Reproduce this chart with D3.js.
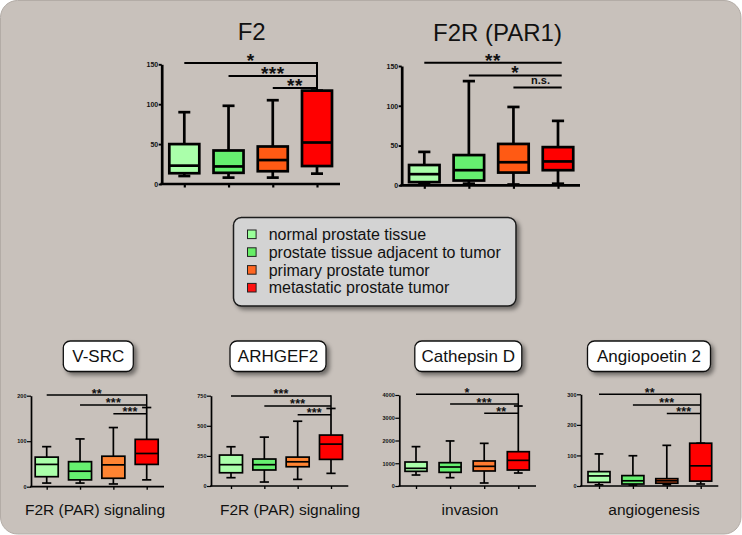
<!DOCTYPE html>
<html>
<head>
<meta charset="utf-8">
<title>F2 / F2R expression in prostate tissue</title>
<script src="https://d3js.org/d3.v7.min.js"></script>
<style>
  body { margin: 0; background: #fff; }
  text { font-family: "Liberation Sans", Arial, Helvetica, sans-serif; }
</style>
</head>
<body>
<div id="chart"></div>
<script>
// tissue groups, in legend order
var groups = ["normal prostate tissue", "prostate tissue adjacent to tumor",
              "primary prostate tumor", "metastatic prostate tumor"];

// box stats per group: [min, q1, median, q3, max]
var f2Boxes      = [[10, 13.5, 23, 50, 90], [8, 14, 22, 42, 98], [8, 16, 30, 47, 105], [13, 22.5, 52, 117, 117]];
var f2rBoxes     = [[2, 4, 14, 25.5, 42], [2, 6, 19, 38, 131], [1, 16, 29, 52, 98.5], [2, 19, 30, 48, 81]];
var vsrcBoxes    = [[8, 22, 49, 65, 88], [8, 15, 34, 55, 105], [6, 18.5, 48, 67, 130], [15, 49, 73, 104, 174]];
var arhgef2Boxes = [[69, 110, 177, 257, 326], [33, 133, 177, 224, 406], [55, 160, 201, 240, 538], [105, 221, 348, 423, 644]];
var ctsdBoxes    = [[483, 645, 777, 1055, 1730], [366, 600, 835, 1025, 1980], [132, 660, 865, 1100, 1875], [571, 703, 1128, 1508, 3516]];
var angpt2Boxes  = [[4, 12, 33, 47, 105], [3, 6.5, 17, 34, 99], [4, 9, 17, 24, 133], [6.5, 16, 66, 140, 140]];

// y tick values
var f2Ticks      = [0, 50, 100, 150];
var f2rTicks     = [0, 50, 100, 150];
var vsrcTicks    = [0, 100, 200];
var arhgef2Ticks = [0, 250, 500, 750];
var ctsdTicks    = [0, 1000, 2000, 3000, 4000];
var angpt2Ticks  = [0, 100, 200, 300];

// significance brackets (each group vs metastatic): height in data units + label
var f2SigY      = [151.6, 135.4, 120.4];
var f2SigLab    = ["*", "***", "**"];
var f2rSigY     = [154, 138, 123];
var f2rSigLab   = ["**", "*", "n.s."];
var vsrcSigY    = [201.5, 179.6, 160.4];
var vsrcSigLab  = ["**", "***", "***"];
var arhgef2SigY   = [748, 665, 591];
var arhgef2SigLab = ["***", "***", "***"];
var ctsdSigY    = [4031, 3604, 3196];
var ctsdSigLab  = ["*", "***", "**"];
var angpt2SigY  = [300, 265, 237];
var angpt2SigLab = ["**", "***", "***"];

var width = 742, height = 535;

var svg = d3.select("#chart").append("svg")
    .attr("width", width)
    .attr("height", height);

var defs = svg.append("defs");
defs.append("filter").attr("id", "shadow")
    .attr("x", "-20%").attr("y", "-30%").attr("width", "150%").attr("height", "180%")
  .append("feDropShadow")
    .attr("dx", 3).attr("dy", 3).attr("stdDeviation", 2.2)
    .attr("flood-color", "#000").attr("flood-opacity", 0.45);

// grey panel
svg.append("rect")
    .attr("x", 0.5).attr("y", 0.5)
    .attr("width", width - 1.5).attr("height", height - 1.5)
    .attr("rx", 17)
    .attr("fill", "#c8c1bb")
    .attr("stroke", "#b3aca6")
    .attr("stroke-width", 1);

var green1 = "#aaffaa", green2 = "#66f070", red = "#ff0000";

var charts = [
  {title: "F2", boxes: f2Boxes, ticks: f2Ticks, sigY: f2SigY, sigLab: f2SigLab,
   ax: 161.7, y0: 184, yTop: 64.3, c0: 184.3, c3: 317, xEnd: 340, bw: 30,
   big: true, link: true, orange: "#ff5a14", tx: 251.7, ty: 40},
  {title: "F2R (PAR1)", boxes: f2rBoxes, ticks: f2rTicks, sigY: f2rSigY, sigLab: f2rSigLab,
   ax: 401.7, y0: 185.3, yTop: 66, c0: 424.3, c3: 558, xEnd: 580, bw: 30.5,
   big: true, link: false, orange: "#ff5a14", tx: 497.5, ty: 41, sigEnd: 561.7},
  {title: "V-SRC", boxes: vsrcBoxes, ticks: vsrcTicks, sigY: vsrcSigY, sigLab: vsrcSigLab,
   ax: 31, y0: 486.7, yTop: 395.7, c0: 46.7, c3: 146.7, xEnd: 164, bw: 23,
   big: false, link: true, orange: "#ff8432", tx: 98.3, boxW: 70,
   foot: "F2R (PAR) signaling", fx: 95},
  {title: "ARHGEF2", boxes: arhgef2Boxes, ticks: arhgef2Ticks, sigY: arhgef2SigY, sigLab: arhgef2SigLab,
   ax: 211, y0: 486, yTop: 395.7, c0: 231, c3: 331, xEnd: 348.3, bw: 23,
   big: false, link: true, orange: "#ff8432", tx: 278, boxW: 96,
   foot: "F2R (PAR) signaling", fx: 290},
  {title: "Cathepsin D", boxes: ctsdBoxes, ticks: ctsdTicks, sigY: ctsdSigY, sigLab: ctsdSigLab,
   ax: 399.3, y0: 486, yTop: 395, c0: 416, c3: 518.3, xEnd: 536, bw: 22,
   big: false, link: true, orange: "#ff7a30", tx: 468.3, boxW: 107,
   foot: "invasion", fx: 470},
  {title: "Angiopoetin 2", boxes: angpt2Boxes, ticks: angpt2Ticks, sigY: angpt2SigY, sigLab: angpt2SigLab,
   ax: 581, y0: 486, yTop: 394.3, c0: 599, c3: 700.7, xEnd: 718.3, bw: 22,
   big: false, link: true, orange: "#f05a1e", tx: 649, boxW: 123,
   foot: "angiogenesis", fx: 654}
];

charts.forEach(drawChart);

function drawChart(c) {
  var y = d3.scaleLinear()
      .domain([0, c.ticks[c.ticks.length - 1]])
      .range([c.y0, c.yTop]);
  var x = d3.scalePoint()
      .domain(d3.range(groups.length))
      .range([c.c0, c.c3]);
  var colors = [green1, green2, c.orange, red];
  var sw = c.big ? 2.7 : 1.7;
  var g = svg.append("g");

  // y axis
  g.append("g")
      .attr("transform", "translate(" + c.ax + ",0)")
      .call(d3.axisLeft(y).tickValues(c.ticks).tickFormat(d3.format("d"))
              .tickSize(c.big ? 3 : 4).tickSizeOuter(0).tickPadding(0.5))
      .attr("font-family", "'Liberation Sans', Arial, sans-serif")
      .attr("font-size", c.big ? 7 : 5.5)
      .attr("font-weight", "bold")
      .call(function(s) {
        s.select(".domain").attr("stroke-width", sw);
        s.selectAll(".tick line").attr("stroke-width", sw * 0.7);
        s.selectAll(".tick text").attr("fill", "#111");
      });

  // x axis line + ticks
  g.append("line")
      .attr("x1", c.ax - sw / 2).attr("x2", c.xEnd)
      .attr("y1", y(0)).attr("y2", y(0))
      .attr("stroke", "#000").attr("stroke-width", sw);
  g.append("g")
      .attr("transform", "translate(0," + y(0) + ")")
      .call(d3.axisBottom(x).tickSize(c.big ? 3.5 : 3).tickFormat(""))
      .call(function(s) {
        s.select(".domain").remove();
        s.selectAll(".tick line").attr("stroke-width", sw * 0.8);
      });

  // boxes
  var box = g.selectAll(".box").data(c.boxes).enter().append("g");
  var cap = c.bw * 0.4;
  box.append("line")
      .attr("x1", function(d, i) { return x(i); })
      .attr("x2", function(d, i) { return x(i); })
      .attr("y1", function(d) { return y(d[0]); })
      .attr("y2", function(d) { return y(d[4]); })
      .attr("stroke", "#000").attr("stroke-width", sw);
  box.append("line")
      .attr("x1", function(d, i) { return x(i) - cap / 2; })
      .attr("x2", function(d, i) { return x(i) + cap / 2; })
      .attr("y1", function(d) { return y(d[4]); })
      .attr("y2", function(d) { return y(d[4]); })
      .attr("stroke", "#000").attr("stroke-width", sw);
  box.append("line")
      .attr("x1", function(d, i) { return x(i) - cap / 2; })
      .attr("x2", function(d, i) { return x(i) + cap / 2; })
      .attr("y1", function(d) { return y(d[0]); })
      .attr("y2", function(d) { return y(d[0]); })
      .attr("stroke", "#000").attr("stroke-width", sw);
  box.append("rect")
      .attr("x", function(d, i) { return x(i) - c.bw / 2; })
      .attr("width", c.bw)
      .attr("y", function(d) { return y(d[3]); })
      .attr("height", function(d) { return y(d[1]) - y(d[3]); })
      .attr("fill", function(d, i) { return colors[i]; })
      .attr("stroke", "#000").attr("stroke-width", sw);
  box.append("line")
      .attr("x1", function(d, i) { return x(i) - c.bw / 2; })
      .attr("x2", function(d, i) { return x(i) + c.bw / 2; })
      .attr("y1", function(d) { return y(d[2]); })
      .attr("y2", function(d) { return y(d[2]); })
      .attr("stroke", "#000").attr("stroke-width", sw);

  // significance brackets
  var last = groups.length - 1;
  var endX = c.sigEnd || x(last);
  var lw = c.big ? 2 : 1.5;
  c.sigY.forEach(function(v, i) {
    g.append("line")
        .attr("x1", x(i)).attr("x2", endX)
        .attr("y1", y(v)).attr("y2", y(v))
        .attr("stroke", "#000").attr("stroke-width", lw);
    var fs = c.big ? 19 : 12.5;
    var ns = c.sigLab[i] === "n.s.";
    g.append("text")
        .attr("x", (x(i) + endX) / 2 + (ns ? 3 : 0))
        .attr("y", ns ? y(v) - 3 : y(v) + fs * 0.2)
        .attr("text-anchor", "middle")
        .attr("font-size", ns ? 11 : fs)
        .attr("font-weight", "bold")
        .attr("letter-spacing", ns ? 0 : (c.big ? 0.5 : 0.2))
        .attr("fill", "#111")
        .text(c.sigLab[i]);
  });
  if (c.link) {
    g.append("line")
        .attr("x1", x(last)).attr("x2", x(last))
        .attr("y1", y(c.sigY[0]) - lw / 2)
        .attr("y2", y(c.boxes[last][4]))
        .attr("stroke", "#000").attr("stroke-width", lw);
  }

  // titles
  if (c.big) {
    svg.append("text")
        .attr("x", c.tx).attr("y", c.ty)
        .attr("text-anchor", "middle")
        .attr("font-size", 24)
        .attr("fill", "#111")
        .text(c.title);
  } else {
    svg.append("rect")
        .attr("x", c.tx - c.boxW / 2).attr("y", 341)
        .attr("width", c.boxW).attr("height", 30.5)
        .attr("rx", 7)
        .attr("fill", "#fff")
        .attr("stroke", "#111").attr("stroke-width", 1.3)
        .attr("filter", "url(#shadow)");
    svg.append("text")
        .attr("x", c.tx).attr("y", 362)
        .attr("text-anchor", "middle")
        .attr("font-size", 17)
        .attr("fill", "#111")
        .text(c.title);
    svg.append("text")
        .attr("x", c.fx).attr("y", 515)
        .attr("text-anchor", "middle")
        .attr("font-size", 15.5)
        .attr("fill", "#111")
        .text(c.foot);
  }
}

// legend
var legendColors = ["#99ff99", "#66ee66", "#ff6622", "#ff1111"];
var legend = svg.append("g");
legend.append("rect")
    .attr("x", 233.5).attr("y", 217.5)
    .attr("width", 282.5).attr("height", 88.5)
    .attr("rx", 8)
    .attr("fill", "#d3d3d3")
    .attr("stroke", "#1a1a1a").attr("stroke-width", 1.5)
    .attr("filter", "url(#shadow)");
var ly = d3.scaleLinear().domain([0, 3]).range([234.3, 287.7]);
var item = legend.selectAll(".item").data(groups).enter().append("g")
    .attr("transform", function(d, i) { return "translate(0," + ly(i) + ")"; });
item.append("rect")
    .attr("x", 247.5).attr("y", -4.3)
    .attr("width", 8.6).attr("height", 8.6)
    .attr("fill", function(d, i) { return legendColors[i]; })
    .attr("stroke", "#222").attr("stroke-width", 1);
item.append("text")
    .attr("x", 268.7).attr("y", 5.6)
    .attr("font-size", 16)
    .attr("fill", "#111")
    .text(function(d) { return d; });
</script>
</body>
</html>
